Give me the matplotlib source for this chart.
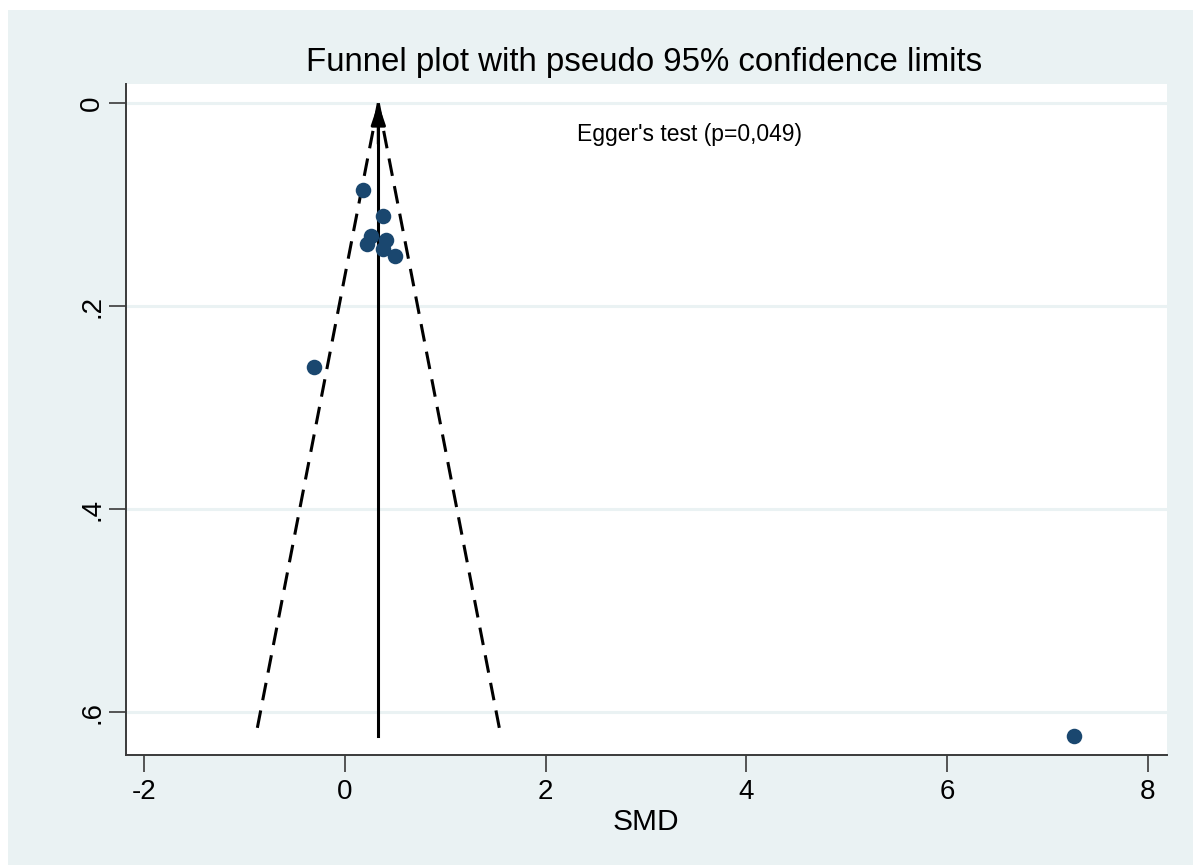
import numpy as np
import matplotlib
matplotlib.use("Agg")
import matplotlib.pyplot as plt
from matplotlib.patches import Rectangle

plt.rcParams['font.family'] = ['Liberation Sans', 'DejaVu Sans']

# Data
smd = [0.183, 0.381, 0.259, 0.216, 0.406, 0.382, 0.498, -0.309, 7.266]
se_smd = [0.0854, 0.1108, 0.131, 0.139, 0.135, 0.144, 0.150, 0.260, 0.623]
pooled = 0.332
x_ticks = [-2, 0, 2, 4, 6, 8]
y_ticks = [0, 0.2, 0.4, 0.6]
y_tick_labels = ["0", ".2", ".4", ".6"]
title = "Funnel plot with pseudo 95% confidence limits"
xlabel = "SMD"
note = "Egger's test (p=0,049)"

W, H = 1193, 866
fig = plt.figure(figsize=(W / 100, H / 100), dpi=100)
fig.patch.set_facecolor('white')
bg = '#EAF2F3'
fig.patches.append(Rectangle((8 / W, 1 - 865 / H), (W - 8) / W, (865 - 10) / H,
                             transform=fig.transFigure, facecolor=bg,
                             edgecolor='none', zorder=-10))

ax = fig.add_axes([126 / W, 1 - 755 / H, (1167 - 126) / W, (755 - 84) / H])
ax.set_zorder(1)
ax.set_facecolor('white')
ax.set_xlim(-2.183, 8.193)
ax.set_ylim(0.642, -0.019)

for yt in y_ticks:
    ax.axhline(yt, color=bg, lw=2.2, zorder=1)

se_max = max(se_smd)
se_line = np.array([0, se_max])
ax.plot([pooled, pooled], [0.01, se_max], color='black', lw=2.2, zorder=3)
ax.plot(pooled - 1.96 * se_line, se_line, color='black', lw=2.2,
        dashes=(5.8, 3.4), zorder=3)
ax.plot(pooled + 1.96 * se_line, se_line, color='black', lw=2.2,
        dashes=(5.8, 3.4), zorder=3)
# arrow head at top
ax.annotate('', xy=(pooled, 0), xytext=(pooled, 0.04),
            arrowprops=dict(arrowstyle='-|>,head_length=0.65,head_width=0.22',
                            color='black', lw=2.2, mutation_scale=20,
                            shrinkA=0, shrinkB=0), zorder=4)

ax.scatter(smd, se_smd, s=125, color='#1a476f', zorder=5, linewidths=0)

ax.text(3.43, 0.031, note, fontsize=16.5, ha='center', va='center')

for s in ['top', 'right']:
    ax.spines[s].set_visible(False)
for s in ['left', 'bottom']:
    ax.spines[s].set_color('#3a3a3a')
    ax.spines[s].set_linewidth(1.4)

ax.set_xticks(x_ticks)
ax.set_xticklabels([str(t) for t in x_ticks])
ax.set_yticks(y_ticks)
ax.set_yticklabels(y_tick_labels, rotation=90, va='center')
ax.tick_params(axis='both', direction='out', length=12, width=1.2,
               color='#3a3a3a', labelsize=20, pad=5)
ax.tick_params(axis='y', pad=3)

fig.text(646 / W, 1 - 822 / H, xlabel, fontsize=21.5, ha='center', va='center')
fig.text(644 / W, 1 - 63 / H, title, fontsize=23.8, ha='center', va='center')

fig.savefig('out.png', dpi=100, facecolor=fig.get_facecolor())
